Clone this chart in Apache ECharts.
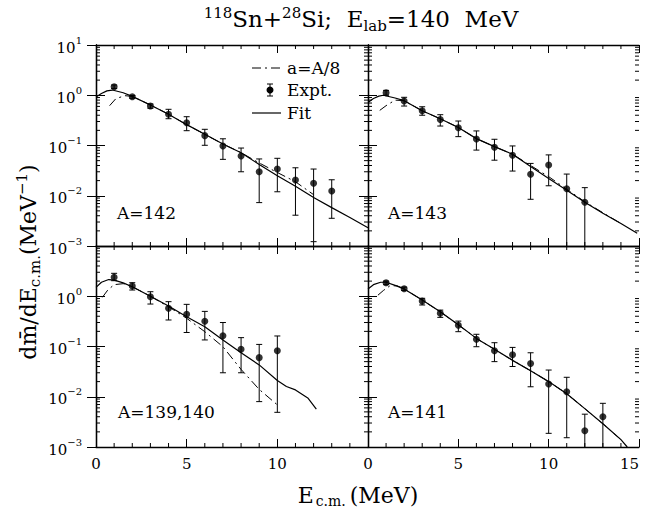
<!DOCTYPE html>
<html><head><meta charset="utf-8">
<script src="https://cdn.jsdelivr.net/npm/echarts@6/dist/echarts.min.js"></script>
<style>html,body{margin:0;padding:0;background:#fff}#c{width:647px;height:510px}</style>
</head><body><div id="c"></div><script>
// ---------------- data ----------------
const panelLabels = ['A=142', 'A=143', 'A=139,140', 'A=141'];
const legendNames = ['a=A/8', 'Expt.', 'Fit'];
const xTickLabelsLeft = [0, 5, 10];
const xTickLabelsRight = [0, 5, 10, 15];
const xMinorTicks = [1, 2, 3, 4, 6, 7, 8, 9, 11, 12, 13, 14];

// A=142
const exptE142 = [1, 2, 3, 4, 5, 6, 7, 8, 9, 10, 11, 12, 13];
const expt142 = [1.48, 0.93, 0.61, 0.42, 0.284, 0.157, 0.098, 0.062, 0.030, 0.034, 0.0206, 0.0178, 0.0124];
const lo142 = [1.36, 0.87, 0.55, 0.341, 0.197, 0.101, 0.053, 0.030, 0.0073, 0.012, 0.0041, 0.00122, 0.00356];
const hi142 = [1.60, 0.99, 0.67, 0.525, 0.374, 0.21, 0.136, 0.089, 0.054, 0.0556, 0.036, 0.034, 0.0208];
const fitE142 = [0, 0.3, 0.6, 0.9, 1.5, 2, 3, 4, 5, 6, 7, 8, 9, 10, 11, 12, 13, 14, 15];
const fit142 = [0.92, 1.08, 1.22, 1.27, 1.12, 0.95, 0.64, 0.42, 0.26, 0.167, 0.107, 0.072, 0.042, 0.025, 0.0155, 0.0092, 0.0058, 0.0037, 0.0023];
const dashE142 = [0.75, 1.1, 1.6, 2, 3, 4, 5, 6, 7, 8, 9, 10, 11, 12];
const dash142 = [0.62, 0.86, 0.98, 0.95, 0.64, 0.42, 0.26, 0.167, 0.107, 0.072, 0.045, 0.029, 0.019, 0.0105];

// A=143
const exptE143 = [1, 2, 3, 4, 5, 6, 7, 8, 9, 10, 11, 12];
const expt143 = [1.12, 0.77, 0.49, 0.33, 0.226, 0.135, 0.092, 0.064, 0.0267, 0.041, 0.0138, 0.0074];
const lo143 = [1.0, 0.61, 0.40, 0.244, 0.15, 0.081, 0.051, 0.031, 0.0085, 0.0158, 0.0005, 0.0005];
const hi143 = [1.25, 0.91, 0.59, 0.41, 0.307, 0.195, 0.133, 0.098, 0.044, 0.065, 0.027, 0.0145];
const fitE143 = [0, 0.3, 0.6, 0.85, 1.5, 2, 3, 4, 5, 6, 7, 8, 9, 10, 11, 12, 13, 14, 14.9];
const fit143 = [0.72, 0.86, 0.96, 1.0, 0.88, 0.78, 0.49, 0.34, 0.229, 0.137, 0.095, 0.067, 0.038, 0.022, 0.0129, 0.0074, 0.0045, 0.0028, 0.0018];
const dashE143 = [0.65, 1.0, 1.5, 2, 3, 4, 5, 6, 7, 8, 9, 10, 11, 12, 13, 14];
const dash143 = [0.5, 0.62, 0.8, 0.78, 0.49, 0.34, 0.229, 0.137, 0.095, 0.067, 0.040, 0.024, 0.0135, 0.0076, 0.0046, 0.0028];

// A=139,140
const exptE139 = [1, 2, 3, 4, 5, 6, 7, 8, 9, 10];
const expt139 = [2.38, 1.6, 0.98, 0.575, 0.44, 0.317, 0.164, 0.088, 0.060, 0.082];
const lo139 = [2.04, 1.33, 0.70, 0.337, 0.19, 0.135, 0.030, 0.030, 0.008, 0.0049];
const hi139 = [2.86, 1.86, 1.23, 0.78, 0.69, 0.50, 0.30, 0.15, 0.11, 0.162];
const fitE139 = [0, 0.3, 0.7, 1, 1.5, 2, 3, 4, 5, 6, 7, 8, 9, 10, 10.5, 11, 11.7, 12.15];
const fit139 = [1.5, 1.9, 2.15, 2.1, 1.85, 1.55, 1.0, 0.64, 0.39, 0.248, 0.135, 0.075, 0.043, 0.021, 0.016, 0.0137, 0.0093, 0.0057];
const dashE139 = [0.35, 0.65, 1.0, 1.5, 2, 3, 4, 5, 6, 7, 8, 9, 10];
const dash139 = [0.95, 1.33, 1.7, 1.78, 1.55, 1.0, 0.62, 0.364, 0.197, 0.099, 0.035, 0.014, 0.0069];

// A=141
const exptE141 = [1, 2, 3, 4, 5, 6, 7, 8, 9, 10, 11, 12, 13];
const expt141 = [1.86, 1.41, 0.80, 0.457, 0.264, 0.139, 0.082, 0.0687, 0.046, 0.018, 0.0126, 0.0021, 0.004];
const lo141 = [1.7, 1.3, 0.67, 0.38, 0.197, 0.099, 0.050, 0.040, 0.0158, 0.00187, 0.00153, 0.0005, 0.0005];
const hi141 = [2.0, 1.52, 0.91, 0.53, 0.32, 0.175, 0.119, 0.096, 0.075, 0.034, 0.0244, 0.0045, 0.0074];
const fitE141 = [0, 0.3, 0.7, 1, 1.5, 2, 3, 4, 5, 6, 7, 8, 9, 10, 11, 12, 13, 14, 14.35];
const fit141 = [1.4, 1.7, 1.9, 1.9, 1.65, 1.4, 0.84, 0.49, 0.27, 0.145, 0.088, 0.053, 0.033, 0.020, 0.0115, 0.0058, 0.0029, 0.0014, 0.001];
const dashE141 = [0.55, 0.85, 1.2, 1.6, 2, 3, 4, 5, 6, 7, 8, 9, 10, 11, 12, 13, 14];
const dash141 = [1.05, 1.3, 1.6, 1.62, 1.4, 0.84, 0.49, 0.27, 0.145, 0.088, 0.053, 0.033, 0.020, 0.0115, 0.0058, 0.0029, 0.0014];

// ---------------- chart ----------------
const F = 'DejaVu Serif';
const K = '#000';
const DASH = [9, 4, 2, 4];
const panels = [
  {E: exptE142, v: expt142, lo: lo142, hi: hi142, fE: fitE142, f: fit142, dE: dashE142, d: dash142},
  {E: exptE143, v: expt143, lo: lo143, hi: hi143, fE: fitE143, f: fit143, dE: dashE143, d: dash143},
  {E: exptE139, v: expt139, lo: lo139, hi: hi139, fE: fitE139, f: fit139, dE: dashE139, d: dash139},
  {E: exptE141, v: expt141, lo: lo141, hi: hi141, fE: fitE141, f: fit141, dE: dashE141, d: dash141}
];
const gridBoxes = [
  {left: 96, top: 45, width: 272, height: 201},
  {left: 368, top: 45, width: 271, height: 201},
  {left: 96, top: 246, width: 272, height: 201},
  {left: 368, top: 246, width: 271, height: 201}
];
const YMIN = 0.001, YMAX = 10;
const yMinorTicks = [];
[0.001, 0.01, 0.1, 1].forEach(d => { for (let k = 2; k <= 9; k++) yMinorTicks.push(+(d * k).toPrecision(3)); });

const zip = (a, b) => a.map((x, i) => [x, b[i]]);
const axLine = {show: true, lineStyle: {color: K, width: 1.3}};
const tickSt = {stroke: K, lineWidth: 1};

const grids = [], xAxes = [], yAxes = [], series = [];
gridBoxes.forEach((b, g) => {
  grids.push(Object.assign({containLabel: false, outerBoundsMode: 'none'}, b));
  const bottomRow = g >= 2, leftCol = g % 2 === 0;
  ['bottom', 'top'].forEach(pos => {
    xAxes.push({
      gridIndex: g, type: 'value', min: 0, max: 15, interval: 5, position: pos,
      axisLine: axLine,
      axisTick: {show: true, inside: true, length: 8, lineStyle: {color: K, width: 1}},
      splitLine: {show: false},
      axisLabel: {
        show: pos === 'bottom' && bottomRow,
        customValues: leftCol ? xTickLabelsLeft : xTickLabelsRight,
        alignMaxLabel: leftCol ? null : 'right',
        color: K, fontFamily: F, fontSize: 15, margin: 9
      }
    });
  });
  ['left', 'right'].forEach(pos => {
    yAxes.push({
      gridIndex: g, type: 'log', logBase: 10, min: YMIN, max: YMAX, position: pos,
      axisLine: axLine,
      axisTick: {show: true, inside: true, length: 9, lineStyle: {color: K, width: 1}},
      splitLine: {show: false},
      axisLabel: {
        show: pos === 'left' && leftCol,
        showMaxLabel: !bottomRow,
        margin: 14,
        formatter: v => {
          const e = Math.round(Math.log10(v));
          return '{b|10}{s|' + (e < 0 ? '\u2212' + (-e) : e) + '}';
        },
        rich: {
          b: {fontFamily: F, fontSize: 15, color: K, lineHeight: 20, verticalAlign: 'bottom'},
          s: {fontFamily: F, fontSize: 10, color: K, lineHeight: 10, verticalAlign: 'top'}
        }
      }
    });
  });

  const p = panels[g];
  const xi = 2 * g, yi = 2 * g;
  // minor ticks of the log y axis (left and right edges)
  series.push({
    name: 'y minor ticks', type: 'custom', xAxisIndex: xi, yAxisIndex: yi, silent: true, z: 1,
    data: yMinorTicks.map(v => [0, v]),
    renderItem: (params, api) => {
      const cs = params.coordSys;
      const y = api.coord([0, api.value(1)])[1];
      return {type: 'group', children: [
        {type: 'line', shape: {x1: cs.x, y1: y, x2: cs.x + 4, y2: y}, style: tickSt},
        {type: 'line', shape: {x1: cs.x + cs.width - 4, y1: y, x2: cs.x + cs.width, y2: y}, style: tickSt}
      ]};
    }
  });
  // minor ticks of the x axis (bottom and top edges)
  series.push({
    name: 'x minor ticks', type: 'custom', xAxisIndex: xi, yAxisIndex: yi, silent: true, z: 1,
    data: xMinorTicks.map(v => [v, 1]),
    renderItem: (params, api) => {
      const cs = params.coordSys;
      const x = api.coord([api.value(0), 1])[0];
      return {type: 'group', children: [
        {type: 'line', shape: {x1: x, y1: cs.y + cs.height, x2: x, y2: cs.y + cs.height - 4}, style: tickSt},
        {type: 'line', shape: {x1: x, y1: cs.y, x2: x, y2: cs.y + 4}, style: tickSt}
      ]};
    }
  });
  series.push({
    name: 'Expt.', type: 'scatter', xAxisIndex: xi, yAxisIndex: yi,
    data: zip(p.E, p.v), symbol: 'circle', symbolSize: 7,
    itemStyle: {color: K}, z: 4, silent: true
  });
  series.push({
    name: 'Expt. error', type: 'custom', xAxisIndex: xi, yAxisIndex: yi,
    data: p.E.map((x, i) => [x, p.lo[i], p.hi[i]]),
    encode: {x: 0, y: [1, 2]}, z: 3, silent: true,
    renderItem: (params, api) => {
      const x = api.value(0), lo = api.value(1), hi = api.value(2);
      const loC = Math.max(lo, YMIN);
      const a = api.coord([x, hi]), c = api.coord([x, loC]);
      const w = 3;
      const ch = [
        {type: 'line', shape: {x1: a[0], y1: a[1], x2: c[0], y2: c[1]}, style: tickSt},
        {type: 'line', shape: {x1: a[0] - w, y1: a[1], x2: a[0] + w, y2: a[1]}, style: tickSt}
      ];
      if (lo >= YMIN) ch.push({type: 'line', shape: {x1: c[0] - w, y1: c[1], x2: c[0] + w, y2: c[1]}, style: tickSt});
      return {type: 'group', children: ch};
    }
  });
  series.push({
    name: 'a=A/8', type: 'line', xAxisIndex: xi, yAxisIndex: yi,
    data: zip(p.dE, p.d), symbol: 'none', silent: true, z: 2,
    lineStyle: {color: K, width: 1, type: DASH}, itemStyle: {color: K}
  });
  series.push({
    name: 'Fit', type: 'line', xAxisIndex: xi, yAxisIndex: yi,
    data: zip(p.fE, p.f), symbol: 'none', silent: true, z: 2,
    lineStyle: {color: K, width: 1.2}, itemStyle: {color: K}
  });
});

const labelPos = [[117, 213], [388, 213], [118, 412], [388, 412]];
const graphics = panelLabels.map((t, i) => ({
  type: 'text', x: labelPos[i][0], y: labelPos[i][1], silent: true,
  style: {text: t, fill: K, fontFamily: F, fontSize: 17, align: 'left', verticalAlign: 'middle'}
}));
// legend (inside the A=142 panel)
const legY = [68, 90, 113];
graphics.push({type: 'line', silent: true, shape: {x1: 252, y1: legY[0], x2: 281, y2: legY[0]}, style: {stroke: K, lineWidth: 1, lineDash: DASH}});
graphics.push({type: 'line', silent: true, shape: {x1: 270, y1: legY[1] - 6, x2: 270, y2: legY[1] + 6}, style: tickSt});
graphics.push({type: 'line', silent: true, shape: {x1: 267, y1: legY[1] - 6, x2: 273, y2: legY[1] - 6}, style: tickSt});
graphics.push({type: 'line', silent: true, shape: {x1: 267, y1: legY[1] + 6, x2: 273, y2: legY[1] + 6}, style: tickSt});
graphics.push({type: 'circle', silent: true, shape: {cx: 270, cy: legY[1], r: 3.5}, style: {fill: K}});
graphics.push({type: 'line', silent: true, shape: {x1: 252, y1: legY[2], x2: 281, y2: legY[2]}, style: {stroke: K, lineWidth: 1.2}});
legendNames.forEach((t, i) => graphics.push({
  type: 'text', x: 287, y: legY[i], silent: true,
  style: {text: t, fill: K, fontFamily: F, fontSize: 17, align: 'left', verticalAlign: 'middle'}
}));
graphics.push({
  type: 'text', x: 361, y: 19, silent: true,
  style: {
    text: '{p|118}{m|Sn+}{p|28}{m|Si;  E}{q|lab}{m|=140  MeV}', align: 'center', verticalAlign: 'middle', fill: K,
    rich: {
      m: {fontFamily: F, fontSize: 23, fill: K, lineHeight: 28, verticalAlign: 'middle'},
      p: {fontFamily: F, fontSize: 15, fill: K, lineHeight: 15, verticalAlign: 'top'},
      q: {fontFamily: F, fontSize: 15, fill: K, lineHeight: 15, verticalAlign: 'bottom'}
    }
  }
});
graphics.push({
  type: 'text', x: 28, y: 262, rotation: Math.PI / 2, silent: true,
  style: {
    text: '{m|dm\u0304/dE}{q|c.m.}{m|(MeV}{p|\u22121}{m|)}', align: 'center', verticalAlign: 'middle', fill: K,
    rich: {
      m: {fontFamily: F, fontSize: 22, fill: K, lineHeight: 28, verticalAlign: 'middle'},
      p: {fontFamily: F, fontSize: 15, fill: K, lineHeight: 15, verticalAlign: 'top'},
      q: {fontFamily: F, fontSize: 15, fill: K, lineHeight: 15, verticalAlign: 'bottom'}
    }
  }
});
graphics.push({
  type: 'text', x: 358, y: 495, silent: true,
  style: {
    text: '{m|E}{q|c.m.}{m|(MeV)}', align: 'center', verticalAlign: 'middle', fill: K,
    rich: {
      m: {fontFamily: F, fontSize: 22, fill: K, lineHeight: 26, verticalAlign: 'middle'},
      q: {fontFamily: F, fontSize: 14, fill: K, lineHeight: 14, verticalAlign: 'bottom', padding: [0, 4, 0, 2]}
    }
  }
});

const chart = echarts.init(document.getElementById('c'), null, {renderer: 'svg'});
chart.setOption({
  animation: false,
  backgroundColor: '#fff',
  grid: grids, xAxis: xAxes, yAxis: yAxes, series: series,
  graphic: graphics
});
</script></body></html>
